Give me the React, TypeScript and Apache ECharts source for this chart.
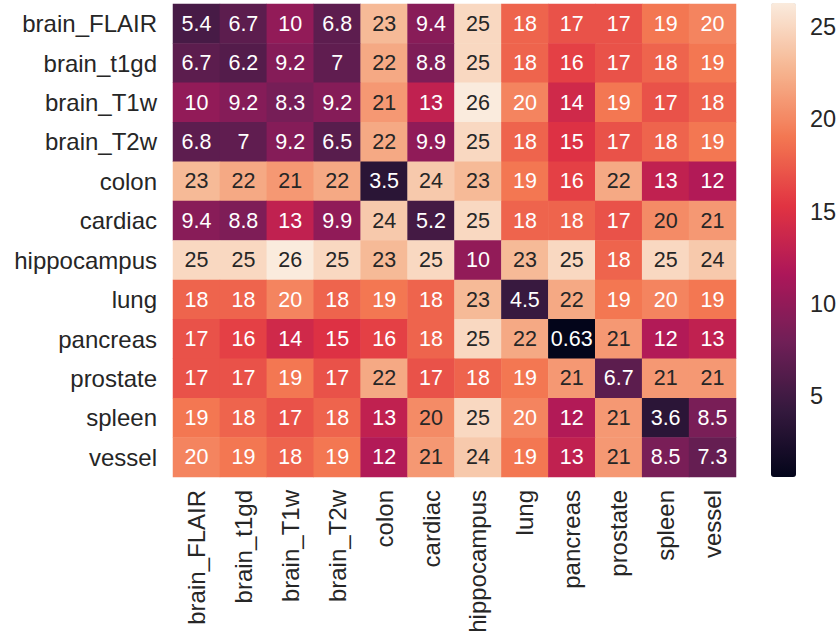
import React, { useEffect, useRef } from "react";
import * as echarts from "echarts";

const labels = [
  "brain_FLAIR", "brain_t1gd", "brain_T1w", "brain_T2w", "colon", "cardiac",
  "hippocampus", "lung", "pancreas", "prostate", "spleen", "vessel",
];

const rowBrainFLAIR = [5.4, 6.7, 10, 6.8, 23, 9.4, 25, 18, 17, 17, 19, 19.8];
const rowBrainT1gd = [6.7, 6.2, 9.2, 7, 22, 8.8, 25, 18, 16, 17, 18, 19];
const rowBrainT1w = [10, 9.2, 8.3, 9.2, 21, 13, 26.3, 19.8, 14, 19, 17, 18];
const rowBrainT2w = [6.8, 7, 9.2, 6.5, 22, 9.9, 25, 18, 15, 17, 18, 19];
const rowColon = [23, 22, 21, 22, 3.5, 24, 23, 19, 16, 22, 13, 12];
const rowCardiac = [9.4, 8.8, 13, 9.9, 24, 5.2, 25, 18, 18, 17, 20.2, 21];
const rowHippocampus = [25, 25, 26.3, 25, 23, 25, 10, 23, 25, 18, 25, 24];
const rowLung = [18, 18, 19.8, 18, 19, 18, 23, 4.5, 22, 19, 19.8, 19];
const rowPancreas = [17, 16, 14, 15, 16, 18, 25, 22, 0.63, 21, 12, 13];
const rowProstate = [17, 17, 19, 17, 22, 17, 18, 19, 21, 6.7, 21, 21];
const rowSpleen = [19, 18, 17, 18, 13, 20.2, 25, 19.8, 12, 21, 3.6, 8.5];
const rowVessel = [19.8, 19, 18, 19, 12, 21, 24, 19, 13, 21, 8.5, 7.3];

const matrix = [
  rowBrainFLAIR, rowBrainT1gd, rowBrainT1w, rowBrainT2w, rowColon, rowCardiac,
  rowHippocampus, rowLung, rowPancreas, rowProstate, rowSpleen, rowVessel,
];

const colorbarTicks = [5, 10, 15, 20, 25];
const rocket = ["#03051a", "#35193e", "#701f57", "#ad1759", "#e13342", "#f37651", "#f6b48f", "#faebdd"];

const FONT = "Liberation Sans, Arial, sans-serif";
const DARK = "#262626";

function fmt(v: number): string {
  return String(Number(v.toPrecision(2)));
}

export default function App() {
  const ref = useRef<HTMLDivElement>(null);
  useEffect(() => {
    if (!ref.current) return;
    const chart = echarts.init(ref.current, undefined, { renderer: "svg" });
    const all = matrix.flat();
    const vmin = Math.min(...all);
    const vmax = Math.max(...all);
    const data: any[] = [];
    matrix.forEach((row, y) => {
      row.forEach((v, x) => {
        data.push({
          value: [x, y, v],
          label: { color: v >= 20 ? DARK : "#ffffff" },
        });
      });
    });
    chart.setOption({
      animation: false,
      backgroundColor: "#ffffff",
      grid: [
        { left: 173, top: 4, width: 563, height: 473 },
        { left: 771, top: 3, width: 25, height: 474 },
      ],
      xAxis: [
        {
          type: "category",
          data: labels,
          gridIndex: 0,
          axisLine: { show: false },
          axisTick: { show: false },
          splitArea: { show: false },
          axisLabel: { rotate: 90, margin: 13, fontSize: 24, color: DARK, fontFamily: FONT },
        },
        { type: "value", gridIndex: 1, show: false, min: 0, max: 1 },
      ],
      yAxis: [
        {
          type: "category",
          data: labels,
          inverse: true,
          gridIndex: 0,
          axisLine: { show: false },
          axisTick: { show: false },
          splitArea: { show: false },
          axisLabel: { margin: 16, fontSize: 24, color: DARK, fontFamily: FONT },
        },
        {
          type: "value",
          gridIndex: 1,
          position: "right",
          min: vmin,
          max: vmax,
          splitLine: { show: false },
          axisLine: { show: false },
          axisTick: {
            show: true,
            length: 7,
            lineStyle: { color: DARK, width: 1.5 },
            customValues: colorbarTicks,
          },
          axisLabel: {
            margin: 14,
            fontSize: 23.5,
            color: DARK,
            fontFamily: FONT,
            customValues: colorbarTicks,
          },
        },
      ],
      visualMap: {
        type: "continuous",
        seriesIndex: 0,
        min: vmin,
        max: vmax,
        show: true,
        calculable: false,
        hoverLink: false,
        orient: "vertical",
        left: 771,
        top: 3,
        padding: 0,
        itemWidth: 25,
        itemHeight: 474,
        text: ["", ""],
        inRange: { color: rocket },
      },
      series: [
        {
          type: "heatmap",
          xAxisIndex: 0,
          yAxisIndex: 0,
          data,
          label: {
            show: true,
            fontSize: 21.5,
            fontFamily: FONT,
            formatter: (p: any) => fmt(p.value[2]),
          },
          itemStyle: { borderWidth: 0 },
          emphasis: { disabled: true },
        },
        {
          type: "scatter",
          xAxisIndex: 1,
          yAxisIndex: 1,
          data: [],
        },
      ],
    });
    return () => chart.dispose();
  }, []);
  return (
    <div
      ref={ref}
      style={{ position: "absolute", left: 0, top: 0, width: 840, height: 640 }}
    />
  );
}
